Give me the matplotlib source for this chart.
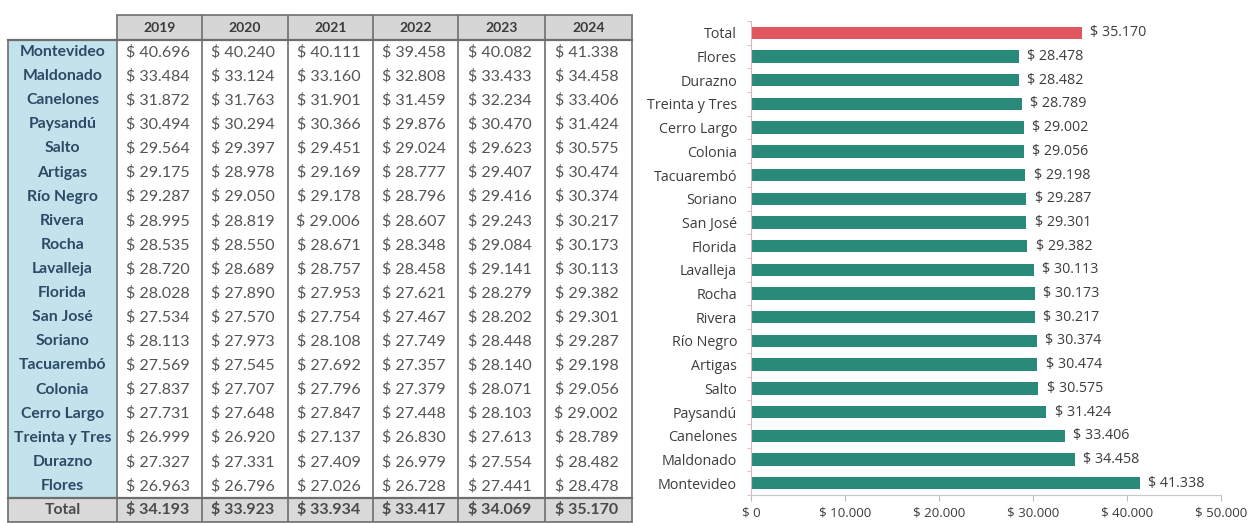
import matplotlib
matplotlib.use("Agg")
import matplotlib.pyplot as plt
from matplotlib.patches import Rectangle
import numpy as np

# ---------------- data ----------------
years = ["2019", "2020", "2021", "2022", "2023", "2024"]
departments = ["Montevideo", "Maldonado", "Canelones", "Paysandú", "Salto", "Artigas",
               "Río Negro", "Rivera", "Rocha", "Lavalleja", "Florida", "San José",
               "Soriano", "Tacuarembó", "Colonia", "Cerro Largo", "Treinta y Tres",
               "Durazno", "Flores"]
v2019 = [40696, 33484, 31872, 30494, 29564, 29175, 29287, 28995, 28535, 28720,
         28028, 27534, 28113, 27569, 27837, 27731, 26999, 27327, 26963]
v2020 = [40240, 33124, 31763, 30294, 29397, 28978, 29050, 28819, 28550, 28689,
         27890, 27570, 27973, 27545, 27707, 27648, 26920, 27331, 26796]
v2021 = [40111, 33160, 31901, 30366, 29451, 29169, 29178, 29006, 28671, 28757,
         27953, 27754, 28108, 27692, 27796, 27847, 27137, 27409, 27026]
v2022 = [39458, 32808, 31459, 29876, 29024, 28777, 28796, 28607, 28348, 28458,
         27621, 27467, 27749, 27357, 27379, 27448, 26830, 26979, 26728]
v2023 = [40082, 33433, 32234, 30470, 29623, 29407, 29416, 29243, 29084, 29141,
         28279, 28202, 28448, 28140, 28071, 28103, 27613, 27554, 27441]
v2024 = [41338, 34458, 33406, 31424, 30575, 30474, 30374, 30217, 30173, 30113,
         29382, 29301, 29287, 29198, 29056, 29002, 28789, 28482, 28478]
totals = [34193, 33923, 33934, 33417, 34069, 35170]
total_label = "Total"
x_ticks = [0, 10000, 20000, 30000, 40000, 50000]


def money(v):
    return "$ " + f"{v:,}".replace(",", ".")


W, H = 1253, 523
fig = plt.figure(figsize=(W / 100, H / 100), dpi=100)
fig.patch.set_facecolor("white")

# ---------------- table (pixel-coordinate canvas) ----------------
tab = fig.add_axes([0, 0, 1, 1])
tab.set_xlim(0, W)
tab.set_ylim(H, 0)
tab.axis("off")

col_edges = [8, 117, 202, 288, 373, 458, 545, 632]
head_top, head_bot = 15, 40
n_rows = len(departments)
total_top, total_bot = 498, 522
row_h = (total_top - head_bot) / n_rows

line_c = "#6e6e6e"
name_c = "#2c4a66"
val_c = "#555555"
fam = ["Lato", "DejaVu Sans"]

# header
tab.add_patch(Rectangle((col_edges[1], head_top), col_edges[-1] - col_edges[1],
                        head_bot - head_top, facecolor="#d6d6d6", edgecolor="none"))
for j, y in enumerate(years):
    cx = (col_edges[j + 1] + col_edges[j + 2]) / 2
    tab.text(cx, (head_top + head_bot) / 2, y, ha="center", va="center",
             fontsize=10, fontweight="bold", color="#3a3a3a", family=fam)
# name column background
tab.add_patch(Rectangle((col_edges[0], head_bot), col_edges[1] - col_edges[0],
                        total_top - head_bot, facecolor="#c2e3ec", edgecolor="none"))
# total row background
tab.add_patch(Rectangle((col_edges[0], total_top), col_edges[-1] - col_edges[0],
                        total_bot - total_top, facecolor="#d9d9d9", edgecolor="none"))

series = [v2019, v2020, v2021, v2022, v2023, v2024]
for i, name in enumerate(departments):
    cy = head_bot + row_h * (i + 0.5)
    tab.text((col_edges[0] + col_edges[1]) / 2, cy, name, ha="center", va="center",
             fontsize=11.3, fontweight="bold", color=name_c, family=fam)
    for j, s in enumerate(series):
        cx = (col_edges[j + 1] + col_edges[j + 2]) / 2
        tab.text(cx - 2, cy, money(s[i]), ha="center", va="center",
                 fontsize=11.5, color=val_c, family=fam)

cy = (total_top + total_bot) / 2
tab.text((col_edges[0] + col_edges[1]) / 2, cy, total_label, ha="center", va="center",
         fontsize=11.3, fontweight="bold", color="#4a4a4a", family=fam)
for j, v in enumerate(totals):
    cx = (col_edges[j + 1] + col_edges[j + 2]) / 2
    tab.text(cx - 2, cy, money(v), ha="center", va="center",
             fontsize=11.5, fontweight="bold", color="#4a4a4a", family=fam)

# grid lines
for k, x in enumerate(col_edges):
    top = head_top if k >= 1 else head_bot
    tab.plot([x, x], [top, total_bot], color=line_c, lw=1.2, solid_capstyle="butt")
tab.plot([col_edges[1], col_edges[-1]], [head_top, head_top], color=line_c, lw=1.2)
tab.plot([col_edges[0], col_edges[-1]], [head_bot, head_bot], color=line_c, lw=1.6)
tab.plot([col_edges[0], col_edges[-1]], [total_top, total_top], color=line_c, lw=1.6)
tab.plot([col_edges[0], col_edges[-1]], [total_bot, total_bot], color=line_c, lw=1.2)

# ---------------- bar chart ----------------
bar_names = [total_label] + departments[::-1]
bar_vals = [totals[-1]] + v2024[::-1]
colors = ["#e0565f"] + ["#2a8a79"] * len(departments)

ax_l, ax_r = 751, 1221
ax_t, ax_b = 21, 495
ax = fig.add_axes([ax_l / W, 1 - ax_b / H, (ax_r - ax_l) / W, (ax_b - ax_t) / H])
pos = np.arange(len(bar_names))
ax.barh(pos, bar_vals, height=0.52, color=colors)
ax.set_ylim(len(bar_names) - 0.5, -0.5)
ax.set_xlim(0, 50000)
ax.set_yticks(pos)
ax.set_yticklabels(bar_names)
ax.set_xticks(x_ticks)
ax.set_xticklabels([money(t) for t in x_ticks])
ax.tick_params(axis="y", length=0, pad=10, labelsize=10.3, labelcolor="#3d3d3d")
ax.tick_params(axis="x", length=4, color="#bdbdbd", pad=4, labelsize=9.6,
               labelcolor="#3d3d3d")
ax.set_yticks(np.arange(len(bar_names) + 1) - 0.5, minor=True)
ax.tick_params(axis="y", which="minor", length=3, color="#e3b0b0")
for lab in ax.get_yticklabels() + ax.get_xticklabels():
    lab.set_family(["Open Sans", "DejaVu Sans"])
for sp in ["top", "right"]:
    ax.spines[sp].set_visible(False)
ax.spines["left"].set_color("#d9b9b9")
ax.spines["bottom"].set_color("#c8c8c8")

for p, v in zip(pos, bar_vals):
    ax.annotate(money(v), (v, p), xytext=(6, 0), textcoords="offset points",
                ha="left", va="center", fontsize=10.3, color="#3d3d3d",
                family=["Open Sans", "DejaVu Sans"])

fig.savefig("out.png", dpi=100, facecolor="white")
